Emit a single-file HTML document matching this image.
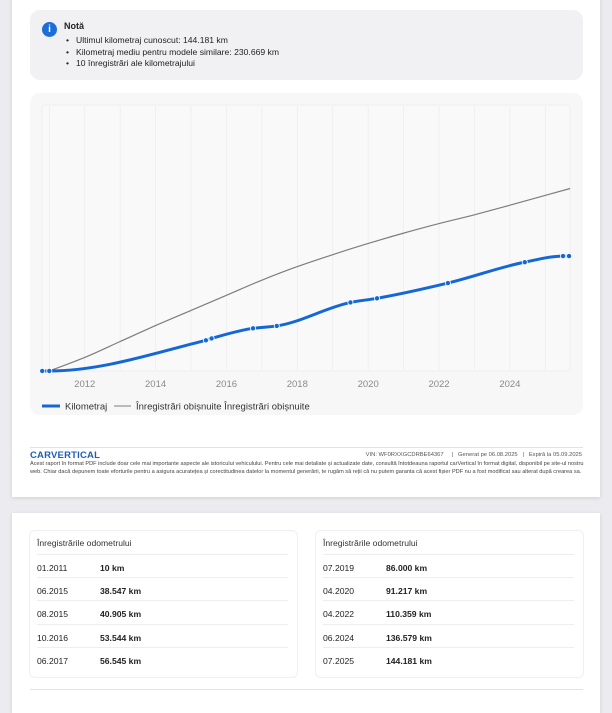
<!DOCTYPE html>
<html><head><meta charset="utf-8">
<style>
body{margin:0;width:612px;height:699px;background:#ececf0;font-family:"Liberation Sans",sans-serif;position:relative;overflow:hidden;color:#222}
.card{position:absolute;background:#fff;box-shadow:0 1px 4px rgba(0,0,0,.12)}
.note{position:absolute;left:30px;top:10px;width:553px;height:70px;background:#f1f1f3;border-radius:10px}
.note ul{margin:0;padding:0;position:absolute;left:46px;top:25px;font-size:8.6px;line-height:11.5px;list-style:none}
.note li{position:relative}
.note li::before{content:"•";position:absolute;left:-10px}
.tbl{position:absolute;top:530px;width:267px;height:146px;border:1px solid #f0f0f2;border-radius:6px;font-size:8.6px}
.tbl .t{position:absolute;left:7px;top:7px;color:#333}
.row{position:absolute;left:7px;right:9px;height:23px;border-top:1px solid #eee}
.row span{position:absolute;top:8px}
.row b{position:absolute;left:63px;top:8px}
</style></head><body>
<div class="card" style="left:12px;top:-10px;width:588px;height:507px"></div>
<div class="note">
  <div style="position:absolute;left:12px;top:12px;width:15px;height:15px;border-radius:50%;background:#1d6fd6;color:#fff;font-size:10px;text-align:center;line-height:15px;font-weight:bold">i</div>
  <div style="position:absolute;left:34px;top:11px;font-size:9px;font-weight:bold">Notă</div>
  <ul>
    <li>Ultimul kilometraj cunoscut: 144.181 km</li>
    <li>Kilometraj mediu pentru modele similare: 230.669 km</li>
    <li>10 înregistrări ale kilometrajului</li>
  </ul>
</div>
<div style="position:absolute;left:30px;top:93px;width:553px;height:322px;background:#f7f7f8;border-radius:10px"></div>
<svg id="chart" width="612" height="699" style="position:absolute;left:0;top:0"></svg>
<div style="position:absolute;left:30px;top:447px;width:553px;border-top:1px solid #e2e2e6"></div>
<div style="position:absolute;left:30px;top:450px;font-size:9.5px;font-weight:bold;color:#1d5fb8;letter-spacing:.2px">CARVERTICAL</div>
<div style="position:absolute;right:30px;top:452px;font-size:5.8px;color:#555;white-space:nowrap">VIN: WF0RXXGCDRBE64367 &nbsp;&nbsp;&nbsp;&nbsp;|&nbsp;&nbsp; Generat pe 06.08.2025 &nbsp;&nbsp;|&nbsp;&nbsp; Expiră la 05.09.2025</div>
<div style="position:absolute;left:30px;top:461px;width:555px;font-size:5.6px;line-height:7.5px;color:#444">Acest raport în format PDF include doar cele mai importante aspecte ale istoricului vehiculului. Pentru cele mai detaliate și actualizate date, consultă întotdeauna raportul carVertical în format digital, disponibil pe site-ul nostru web. Chiar dacă depunem toate eforturile pentru a asigura acuratețea și corectitudinea datelor la momentul generării, te rugăm să reții că nu putem garanta că acest fișier PDF nu a fost modificat sau alterat după crearea sa.</div>
<div class="card" style="left:12px;top:513px;width:588px;height:200px"></div>
<div class="tbl" style="left:29px">
  <div class="t">Înregistrările odometrului</div>
  <div class="row" style="top:23px"><span>01.2011</span><b>10 km</b></div>
  <div class="row" style="top:46px"><span>06.2015</span><b>38.547 km</b></div>
  <div class="row" style="top:69px"><span>08.2015</span><b>40.905 km</b></div>
  <div class="row" style="top:93px"><span>10.2016</span><b>53.544 km</b></div>
  <div class="row" style="top:116px"><span>06.2017</span><b>56.545 km</b></div>
</div>
<div class="tbl" style="left:315px">
  <div class="t">Înregistrările odometrului</div>
  <div class="row" style="top:23px"><span>07.2019</span><b>86.000 km</b></div>
  <div class="row" style="top:46px"><span>04.2020</span><b>91.217 km</b></div>
  <div class="row" style="top:69px"><span>04.2022</span><b>110.359 km</b></div>
  <div class="row" style="top:93px"><span>06.2024</span><b>136.579 km</b></div>
  <div class="row" style="top:116px"><span>07.2025</span><b>144.181 km</b></div>
</div>
<div style="position:absolute;left:30px;top:689px;width:553px;border-top:1px solid #e2e2e6"></div>
<script>
const recordYears=[2010.8,2011.0,2015.42,2015.58,2016.75,2017.42,2019.5,2020.25,2022.25,2024.42,2025.5,2025.67];
const recordKm=[10,10,38547,40905,53544,56545,86000,91217,110359,136579,144181,144181];
const avgYears=[2011.0,2012,2013,2014,2015,2016,2017,2018,2019,2020,2021,2022,2023,2024,2025.7];
const avgKm=[0,17000,37000,57000,76000,95000,114000,131000,146000,160000,173000,185000,196000,208000,229000];
const tickYears=[2012,2014,2016,2018,2020,2022,2024];
const NS="http://www.w3.org/2000/svg";
const svg=document.getElementById('chart');
const X=y=>49.3+(y-2011)*35.43;
const Y=v=>371-v*0.000797;
function el(t,a){const e=document.createElementNS(NS,t);for(const k in a)e.setAttribute(k,a[k]);svg.appendChild(e);return e;}
const box=el('rect',{x:42,y:105,width:528,height:266,rx:4,fill:'#f9f9fa',stroke:'#efeff1'});


for(let yr=2011;yr<=2025;yr++){
  const g=el('line',{x1:X(yr),x2:X(yr),y1:106,y2:370,stroke:'#ececee','stroke-width':0.7});
  
  
}
tickYears.forEach(t=>{
  const tx=el('text',{x:X(t),y:387,'text-anchor':'middle','font-size':9.5,fill:'#8a8a8a','font-family':'Liberation Sans'});
  tx.textContent=t;
  
  
});
function monotone(xs,ys){
  const px=xs.map(X),py=ys.map(Y),n=px.length;
  const d=[],m=new Array(n).fill(0);
  for(let i=0;i<n-1;i++)d.push((py[i+1]-py[i])/((px[i+1]-px[i])||1e-6));
  for(let i=1;i<n-1;i++){
    m[i]=(d[i-1]*d[i]<=0)?0:(2*d[i-1]*d[i])/(d[i-1]+d[i]);
  }
  m[0]=d[0];m[n-1]=d[n-2];
  let s=`M${px[0]},${py[0]}`;
  for(let i=0;i<n-1;i++){
    const h=(px[i+1]-px[i])/3;
    s+=` C${px[i]+h},${py[i]+m[i]*h} ${px[i+1]-h},${py[i+1]-m[i+1]*h} ${px[i+1]},${py[i+1]}`;
  }
  return s;
}
const gl=el('path',{d:monotone(avgYears,avgKm),fill:'none',stroke:'#7d7d7d','stroke-width':1.2});


const bl=el('path',{d:monotone(recordYears,recordKm),fill:'none',stroke:'#1468d6','stroke-width':3,'stroke-linecap':'round'});


recordYears.forEach((yr,i)=>{
  const c=el('circle',{cx:X(yr),cy:Y(recordKm[i]),r:2.6,fill:'#1468d6',stroke:'#fff','stroke-width':0.8});
  
  
});
const lg1=el('line',{x1:42,x2:60,y1:406,y2:406,stroke:'#1468d6','stroke-width':3});


const lt1=el('text',{x:65,y:409.5,'font-size':9.5,fill:'#333','font-family':'Liberation Sans'});
lt1.textContent='Kilometraj';


const lg2=el('line',{x1:114,x2:131,y1:406,y2:406,stroke:'#7d7d7d','stroke-width':1});


const lt2=el('text',{x:136,y:409.5,'font-size':9.5,fill:'#333','font-family':'Liberation Sans'});
lt2.textContent='Înregistrări obișnuite  Înregistrări obișnuite';


</script>
</body></html>
